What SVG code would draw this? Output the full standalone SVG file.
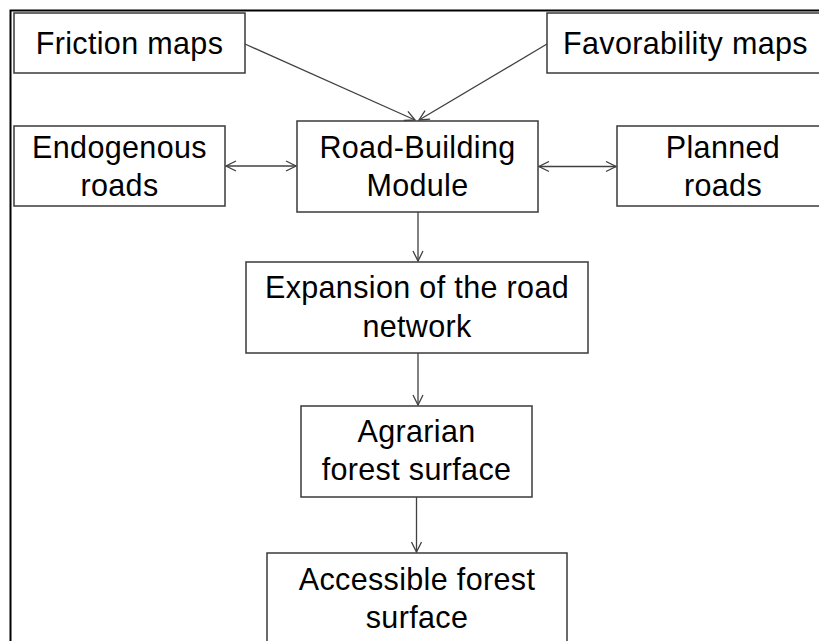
<svg xmlns="http://www.w3.org/2000/svg" width="819" height="641" viewBox="0 0 819 641">
<defs>
<style>
.box{fill:#fff;stroke:#3a3a3a;stroke-width:1.5}
.t{font-family:"Liberation Sans",Arial,sans-serif;font-size:30.5px;letter-spacing:0.35px;fill:#000;text-anchor:middle}
.c{stroke:#404040;stroke-width:1.3;fill:none}
</style>
<marker id="ah" viewBox="0 0 12 12" refX="11" refY="6" markerWidth="12" markerHeight="12" markerUnits="userSpaceOnUse" orient="auto-start-reverse">
<path d="M1,1 L11,6 L1,11" fill="none" stroke="#404040" stroke-width="1.3"/>
</marker>
</defs>
<rect width="819" height="641" fill="#fff"/>
<path d="M10.5,641 V10.5 H819" fill="none" stroke="#000" stroke-width="2"/>
<g id="friction"><rect class="box" x="14" y="13" width="231" height="60"/><text class="t" x="129.5" y="54">Friction maps</text></g>
<g id="favorability"><rect class="box" x="547" y="13" width="280" height="60"/><text class="t" x="685.5" y="54">Favorability maps</text></g>
<g id="endogenous"><rect class="box" x="14" y="126" width="211" height="80"/><text class="t" x="119.5" y="158">Endogenous</text><text class="t" x="119.5" y="196">roads</text></g>
<g id="roadbuilding"><rect class="box" x="297" y="121" width="241" height="91"/><text class="t" x="417.5" y="158">Road-Building</text><text class="t" x="417.5" y="196">Module</text></g>
<g id="planned"><rect class="box" x="617" y="126" width="212" height="80"/><text class="t" x="723" y="158">Planned</text><text class="t" x="723" y="196">roads</text></g>
<g id="expansion"><rect class="box" x="246" y="262" width="342" height="91"/><text class="t" x="417" y="298">Expansion of the road</text><text class="t" x="417" y="337">network</text></g>
<g id="agrarian"><rect class="box" x="301" y="406" width="231" height="91"/><text class="t" x="416.5" y="442">Agrarian</text><text class="t" x="416.5" y="480">forest surface</text></g>
<g id="accessible"><rect class="box" x="267" y="553" width="300" height="100"/><text class="t" x="417" y="590">Accessible forest</text><text class="t" x="417" y="628">surface</text></g>
<g id="connectors">
<line class="c" x1="245" y1="44" x2="415" y2="120" marker-end="url(#ah)"/>
<line class="c" x1="547" y1="44" x2="419" y2="120" marker-end="url(#ah)"/>
<line class="c" x1="226" y1="166" x2="296" y2="166" marker-start="url(#ah)" marker-end="url(#ah)"/>
<line class="c" x1="539" y1="166.5" x2="616" y2="166.5" marker-start="url(#ah)" marker-end="url(#ah)"/>
<line class="c" x1="418" y1="212" x2="418" y2="261" marker-end="url(#ah)"/>
<line class="c" x1="418" y1="353" x2="418" y2="405" marker-end="url(#ah)"/>
<line class="c" x1="416.5" y1="497" x2="416.5" y2="552" marker-end="url(#ah)"/>
</g>
</svg>
